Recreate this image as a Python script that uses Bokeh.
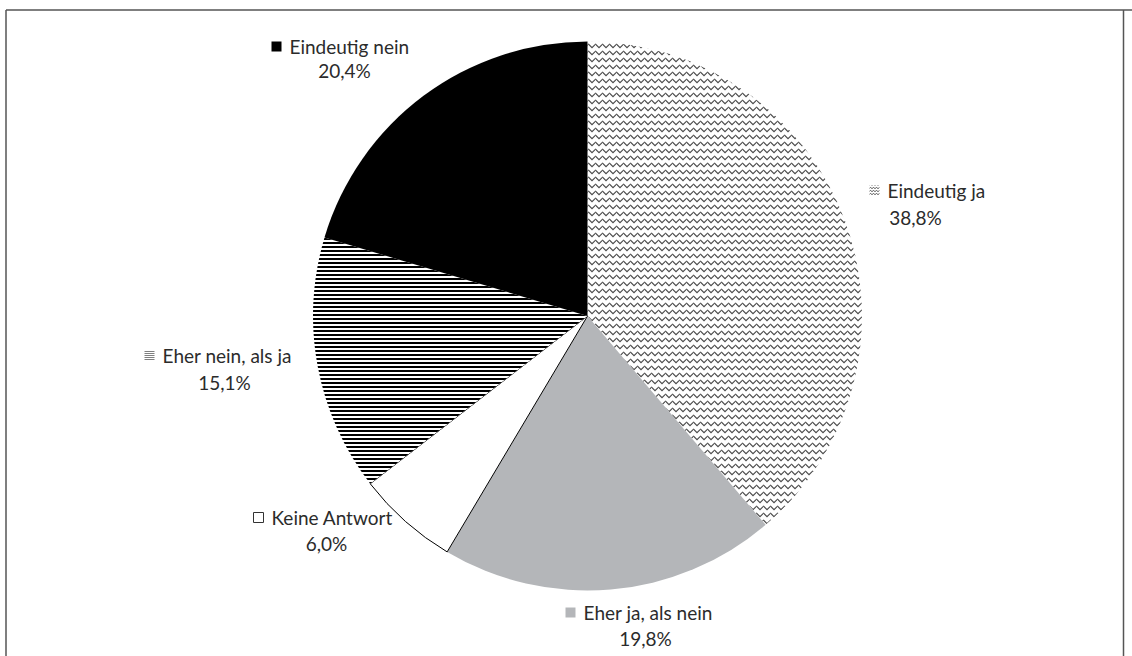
import math
from bokeh.plotting import figure
from bokeh.models import Range1d
from bokeh.core.properties import value
from bokeh.embed import file_html
from bokeh.resources import INLINE

# ---- data ----
categories = ["Eindeutig ja", "Eher ja, als nein", "Keine Antwort", "Eher nein, als ja", "Eindeutig nein"]
values = [38.8, 19.8, 6.0, 15.1, 20.4]
pct_labels = [f"{v:.1f}%".replace(".", ",") for v in values]

# ---- styles ----
fills = ["white", "#b4b6b9", "white", "white", "black"]
hatches = ["horizontal_wave", " ", " ", "horizontal_line", " "]
hatch_colors = ["#4a4a4a", "black", "black", "black", "black"]
hatch_scales = [7, 4, 4, 4, 4]
hatch_weights = [1.2, 1.0, 1.0, 2.0, 1.0]
outline = [None, None, "black", None, None]

# ---- layout (page pixel coordinates) ----
W, H = 1132, 656
PAGE_H = 656
cx, cy_screen, R = 587, 315.5, 274.5
# label layout: marker x, first line y, percent centre x, percent y
lab_marker_x = [874, 570, 258, 149, 276]
lab_y1 = [190, 612, 517, 355, 46]
lab_pct_x = [915, 645, 326, 224, 344]
lab_y2 = [217, 638, 543, 382, 70]

def ys(y):
    return PAGE_H - y

p = figure(width=W, height=H, x_range=Range1d(0, W), y_range=Range1d(PAGE_H - H, PAGE_H),
           output_backend="svg", toolbar_location=None,
           x_axis_location=None, y_axis_location=None, min_border=0)
p.grid.visible = False
p.outline_line_color = None
p.background_fill_color = "white"

total = sum(values)
cum = 0.0
for i, v in enumerate(values):
    a0 = math.pi / 2 - 2 * math.pi * cum / total
    cum += v
    a1 = math.pi / 2 - 2 * math.pi * cum / total
    kw = dict(x=cx, y=ys(cy_screen), radius=R, start_angle=a0, end_angle=a1, direction="clock",
              fill_color=fills[i])
    if outline[i]:
        kw.update(line_color=outline[i], line_width=1)
    else:
        kw.update(line_color=None)
    if hatches[i].strip():
        kw.update(hatch_pattern=hatches[i], hatch_color=hatch_colors[i],
                  hatch_scale=hatch_scales[i], hatch_weight=hatch_weights[i])
    p.wedge(**kw)

# labels
font = value("Lato")
for i in range(len(categories)):
    mk = dict(x=[lab_marker_x[i]], y=[ys(lab_y1[i])], marker="square", size=10,
              fill_color=fills[i], line_color=("#333333" if fills[i] == "white" and not hatches[i].strip() else None),
              line_width=1)
    if hatches[i].strip():
        mk.update(hatch_pattern=hatches[i], hatch_color=hatch_colors[i],
                  hatch_scale=3 if hatches[i] == "horizontal_wave" else 2, hatch_weight=1)
    p.scatter(**mk)
    p.text(x=[lab_marker_x[i] + 13], y=[ys(lab_y1[i])], text=[categories[i]],
           text_font=font, text_font_size="19px", text_color="#2b2b2b",
           text_align="left", text_baseline="middle")
    p.text(x=[lab_pct_x[i]], y=[ys(lab_y2[i])], text=[pct_labels[i]],
           text_font=font, text_font_size="19px", text_color="#2b2b2b",
           text_align="center", text_baseline="middle")

# frame (left, top, right)
p.multi_line(xs=[[5.5, 5.5], [5.5, 1132], [1123, 1123]],
             ys=[[ys(700), ys(9.5)], [ys(9.5), ys(9.5)], [ys(9.5), ys(700)]],
             line_color="#555555", line_width=1.5)

open("out.html", "w").write(file_html(p, INLINE))
